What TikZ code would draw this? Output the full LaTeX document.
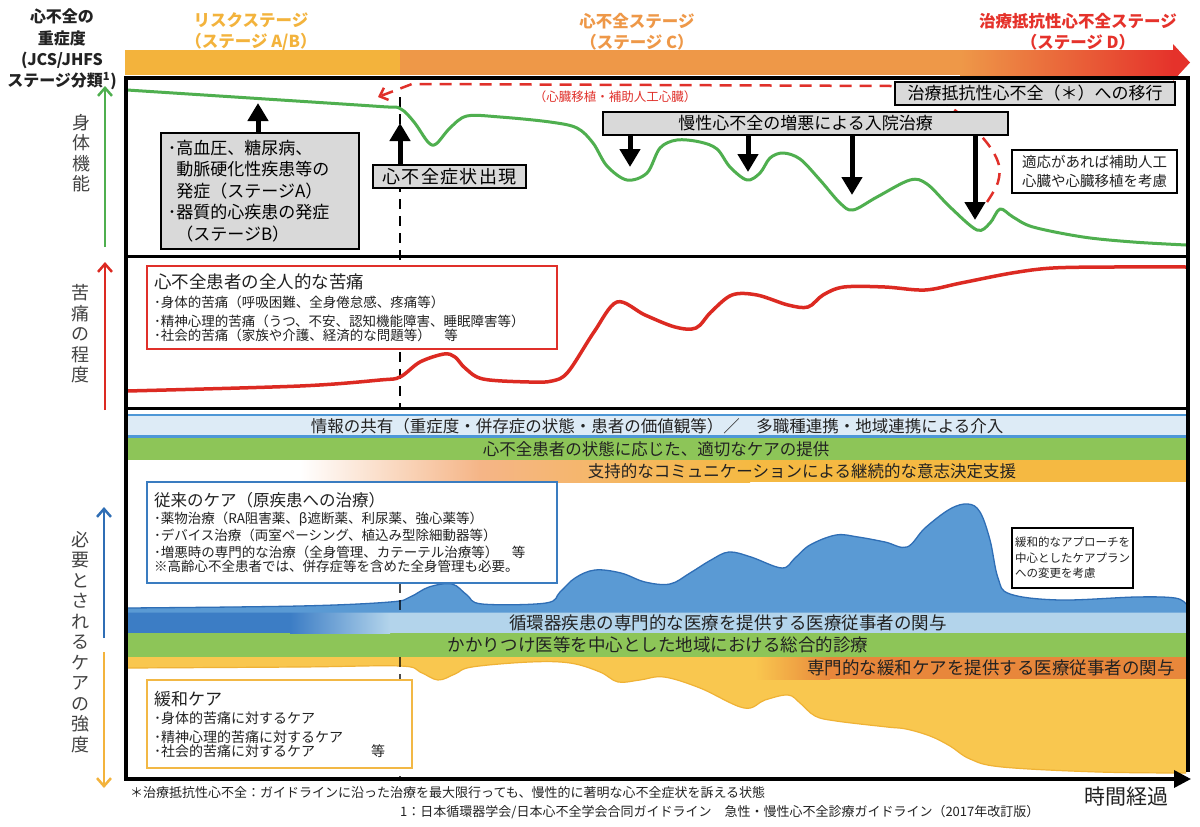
\documentclass[tikz,border=0pt]{standalone}
\usepackage{fontspec}
\setmainfont{Noto Sans CJK JP}
\usetikzlibrary{arrows.meta}
\newcommand\fsz[2]{\fontsize{#1pt}{#2pt}\selectfont}
\definecolor{stY}{HTML}{F3B33C}
\definecolor{stO}{HTML}{EE9848}
\definecolor{stR}{HTML}{E5322B}
\definecolor{gcurve}{HTML}{4FAF4F}
\definecolor{rcurve}{HTML}{DC2A22}
\definecolor{blueA}{HTML}{5A9AD4}
\definecolor{blueE}{HTML}{2F6EB5}
\definecolor{blueD}{HTML}{3C7DC5}
\definecolor{bandB}{HTML}{DDEBF6}
\definecolor{bandBe}{HTML}{4D97D6}
\definecolor{bandG}{HTML}{8DC558}
\definecolor{peach}{HTML}{F5B587}
\definecolor{gold}{HTML}{F5B942}
\definecolor{lblue}{HTML}{B3D4EB}
\definecolor{yelA}{HTML}{F9C74F}
\definecolor{yelE}{HTML}{EFB235}
\definecolor{oraB}{HTML}{E8873B}
\definecolor{boxgray}{HTML}{D9D9D9}
\definecolor{txt}{HTML}{222222}
\definecolor{palE}{HTML}{F2B845}
\definecolor{cureE}{HTML}{3A7CC0}
\definecolor{painE}{HTML}{E0302A}
\tikzset{
  every node/.style={inner sep=0pt, text=txt},
  mainframe/.style={line width=3.5pt, black},
  sepline/.style={line width=3pt, black},
  graybox/.style={draw=black, line width=1.8pt, fill=boxgray, text=black},
  whitebox/.style={draw=black, line width=1.8pt, fill=white},
  blockarrow/.style={line width=5pt, black, -{Triangle[length=18pt,width=20pt]}},
  axisarrow/.style={line width=2.5pt, -{Straight Barb[length=8pt,width=14pt]}},
  vlabel/.style={align=center, font=\fsz{18}{20.5}, text=txt!85!white},
  stagetext/.style={align=center, font=\bfseries\fsz{16.5}{21}},
  uptext/.style={font=\fsz{16.5}{18}},
  lowtext/.style={font=\fsz{17.5}{19}},
  crv/.style={line width=3pt, line join=round, line cap=round},
  vdashline/.style={line width=2.5pt, black, dash pattern=on 10pt off 7pt},
  reddash/.style={line width=2.5pt, painE, dash pattern=on 12pt off 8pt},
}
\begin{document}
\begin{tikzpicture}[x=1pt,y=-1pt]
\useasboundingbox (0,0) rectangle (1200,827);
\fill[white] (0,0) rectangle (1200,827);

% ---------- top stage bar ----------
\fill[stY] (125,50) rectangle (400.5,75);
\fill[stO] (400,50) rectangle (960.5,75);
\shade[left color=stO, right color=stR] (960,50) rectangle (1174,75);
\fill[stR] (1173,44) -- (1190,62.5) -- (1173,81) -- cycle;

\node[align=center, font=\bfseries\fsz{16}{21.3}] (sev) at (62,49.5) {心不全の\\重症度\\(JCS/JHFS\\ステージ分類\textsuperscript{1})};
\node[stagetext, text=stY] (stA) at (251,31.5) {リスクステージ\\（ステージ A/B）};
\node[stagetext, text=stO] (stC) at (637,31.5) {心不全ステージ\\（ステージ C）};
\node[stagetext, text=stR] (stD) at (1078,31.5) {治療抵抗性心不全ステージ\\（ステージ D）};

% ---------- left axis ----------
\coordinate (gA1) at (105,247); \coordinate (gA2) at (105,86);
\draw[axisarrow, gcurve] (gA1) -- (gA2);
\coordinate (rA1) at (105,410); \coordinate (rA2) at (105,262);
\draw[axisarrow, rcurve] (rA1) -- (rA2);
\coordinate (bA1) at (104,638); \coordinate (bA2) at (104,507);
\draw[axisarrow, blueE] (bA1) -- (bA2);
\coordinate (oA1) at (104,652); \coordinate (oA2) at (104,788);
\draw[axisarrow, stY] (oA1) -- (oA2);
\node[vlabel] (lblPhys) at (81,153) {身\\体\\機\\能};
\node[vlabel] (lblPain) at (80,334) {苦\\痛\\の\\程\\度};
\node[vlabel] (lblCare) at (80,642) {必\\要\\と\\さ\\れ\\る\\ケ\\ア\\の\\強\\度};

% ---------- care panel areas ----------
\fill[yelA] (128,656) -- plot[smooth, tension=0.6] coordinates {(128,668) (300,667) (400,666) (420,672) (438,680) (455,674) (472,667) (530,662) (570,663) (600,672) (618,682) (640,680) (664,677) (700,688) (744,708) (765,700) (788,695) (800,703) (815,716) (836,721) (887,727) (906,729) (930,736) (950,746) (970,759) (1002,767) (1098,772) (1186,773)} -- (1186,656) -- cycle;
\draw[yelE, line width=1.2pt] plot[smooth, tension=0.6] coordinates {(128,668) (300,667) (400,666) (420,672) (438,680) (455,674) (472,667) (530,662) (570,663) (600,672) (618,682) (640,680) (664,677) (700,688) (744,708) (765,700) (788,695) (800,703) (815,716) (836,721) (887,727) (906,729) (930,736) (950,746) (970,759) (1002,767) (1098,772) (1186,773)};
\shade[left color=yelA, right color=oraB] (755,657) rectangle (830,679);
\fill[oraB] (829.5,657) rectangle (1186,679);
\fill[bandG] (128,633) rectangle (1186,657);
\fill[blueD] (128,612) rectangle (290.5,633);
\shade[left color=blueD, right color=lblue] (290,612) rectangle (390,633);
\fill[lblue] (389.5,612) rectangle (1186,633);
\fill[blueA] (128,612.5) -- plot[smooth, tension=0.6] coordinates {(128,608) (300,606) (390,602) (410,597) (429,587) (452,584) (467,595) (482,604) (546,603) (560,592) (575,578) (595,570) (621,573) (645,582) (670,584) (690,573) (711,560) (729,552) (751,557) (782,568) (795,558) (810,545) (836,535) (858,537) (885,542) (907,547) (925,528) (950,509) (968,504) (980,512) (990,540) (998,578) (1010,594) (1060,600) (1136,597) (1175,598) (1186,604)} -- (1186,612.5) -- cycle;
\draw[blueE, line width=1.3pt] plot[smooth, tension=0.6] coordinates {(128,608) (300,606) (390,602) (410,597) (429,587) (452,584) (467,595) (482,604) (546,603) (560,592) (575,578) (595,570) (621,573) (645,582) (670,584) (690,573) (711,560) (729,552) (751,557) (782,568) (795,558) (810,545) (836,535) (858,537) (885,542) (907,547) (925,528) (950,509) (968,504) (980,512) (990,540) (998,578) (1010,594) (1060,600) (1136,597) (1175,598) (1186,604)};
\fill[bandB] (128,415) rectangle (1186,437);
\draw[bandBe, line width=2.2pt] (128,415) -- (1186,415) (128,436.5) -- (1186,436.5);
\fill[bandG] (128,437.5) rectangle (1186,460);
\fill[white] (128,460) rectangle (300.5,482);
\shade[left color=white, right color=peach] (300,460) rectangle (480,482);
\shade[left color=peach, right color=gold] (479.5,460) rectangle (750,482);
\fill[gold] (749.5,460) rectangle (1186,482);

\node[uptext] (t1) at (657,426) {情報の共有（重症度・併存症の状態・患者の価値観等）／　多職種連携・地域連携による介入};
\node[uptext] (t2) at (656,449) {心不全患者の状態に応じた、適切なケアの提供};
\node[uptext] (t3) at (802,471) {支持的なコミュニケーションによる継続的な意志決定支援};
\node[lowtext] (t4) at (728,622.5) {循環器疾患の専門的な医療を提供する医療従事者の関与};
\node[lowtext] (t5) at (658,645) {かかりつけ医等を中心とした地域における総合的診療};
\node[lowtext] (t6) at (991,668) {専門的な緩和ケアを提供する医療従事者の関与};

\draw[vdashline] (400,97) -- (400,408);
\draw[vdashline, opacity=0.7] (400,583) -- (400,612);
\draw[vdashline, opacity=0.7] (400,657) -- (400,778);

% ---------- curves ----------
\draw[crv, gcurve] plot[smooth, tension=0.55] coordinates {(127,90) (250,98) (380,106.5) (400,108.5) (414,122) (428,142) (436,144) (450,128) (467,116) (500,117) (550,122) (577,128) (593,143) (607,166) (627,180) (647,173) (660,148) (677,140) (700,142) (717,149) (730,167) (747,180) (760,173) (770,158) (783,153) (800,159) (820,180) (840,203) (853,210) (877,197) (910,180) (927,184) (950,207) (977,230) (990,223) (1000,209) (1013,217) (1033,227) (1083,237) (1133,242) (1186,245)};
\draw[crv, rcurve, line width=3.5pt] plot[smooth, tension=0.55] coordinates {(127,391) (300,386) (380,380) (400,377) (420,362) (444,354) (455,357) (465,368) (483,379) (529,382) (552,381) (568,372) (594,332) (617,302) (645,315) (675,327) (696,328) (711,312) (732,295) (757,295) (788,305) (808,307) (823,295) (844,287) (885,287) (925,290) (961,283) (1012,273) (1053,268) (1114,267) (1186,267)};

\draw[reddash, -{Straight Barb[length=7pt,width=13pt]}] plot[smooth, tension=0.6] coordinates {(987,202) (998,182) (998,162) (983,138) (952,108) (918,91) (890,86)} -- (412,84) -- (378,97);
\node[font=\fsz{12.5}{14}, text=painE] (tx) at (615,97) {（心臓移植・補助人工心臓）};

% ---------- frame ----------
\draw[sepline] (126,256.5) -- (1188,256.5);
\draw[sepline] (126,408.5) -- (1188,408.5);
\draw[mainframe] (126,779) -- (126,78) -- (1188,78) -- (1188,772);
\draw[mainframe, -{Triangle[length=17pt,width=17pt]}] (124.25,779) -- (1191,779);

% ---------- physical panel boxes & arrows ----------
\node[graybox, minimum width=198pt, minimum height=116pt, text width=184pt, align=left, font=\fsz{17}{21.5}, anchor=north west] (risk) at (160,132) {･高血圧、糖尿病、\\\hphantom{･}動脈硬化性疾患等の\\\hphantom{･}発症（ステージA）\\･器質的心疾患の発症\\\hphantom{･}（ステージB）};
\coordinate (riskTip) at (258,103);
\draw[blockarrow] (risk.north -| riskTip) -- (riskTip);

\node[graybox, minimum width=153pt, minimum height=23pt, font=\fsz{18}{20}\addfontfeature{LetterSpace=8}] (symp) at (449.5,176.5) {心不全症状出現};
\coordinate (sympTip) at (400,123);
\draw[blockarrow] (symp.north -| sympTip) -- (sympTip);

\node[graybox, minimum width=405pt, minimum height=23pt, font=\fsz{17}{20}] (hosp) at (805.5,123.5) {慢性心不全の増悪による入院治療};
\coordinate (hA) at (630,167);
\coordinate (hB) at (748,172);
\coordinate (hC) at (852,195);
\coordinate (hD) at (975,220);
\draw[blockarrow] (hosp.south -| hA) -- (hA);
\draw[blockarrow] (hosp.south -| hB) -- (hB);
\draw[blockarrow] (hosp.south -| hC) -- (hC);
\draw[blockarrow] (hosp.south -| hD) -- (hD);

\node[graybox, minimum width=280pt, minimum height=23pt, font=\fsz{17}{20}] (refr) at (1035,93.5) {治療抵抗性心不全（＊）への移行};

\node[whitebox, minimum width=165pt, minimum height=43pt, align=center, font=\fsz{14.5}{19}] (vad) at (1094.5,171.5) {適応があれば補助人工\\心臓や心臓移植を考慮};

% ---------- pain panel box ----------
\node[draw=painE, line width=2pt, fill=white, minimum width=410pt, minimum height=83pt, text width=396pt, align=left] (painbox) at (352,307.5) {\fsz{17.5}{21}心不全患者の全人的な苦痛\par\fsz{13.5}{19}･身体的苦痛（呼吸困難、全身倦怠感、疼痛等）\par･精神心理的苦痛（うつ、不安、認知機能障害、睡眠障害等）\par･社会的苦痛（家族や介護、経済的な問題等）　等};

% ---------- care panel boxes ----------
\node[draw=cureE, line width=2.5pt, fill=white, minimum width=410pt, minimum height=101pt, text width=396pt, align=left] (curebox) at (352,532.5) {\fsz{16.5}{20}従来のケア（原疾患への治療）\par\fsz{13.5}{17}･薬物治療（RA阻害薬、β遮断薬、利尿薬、強心薬等）\par･デバイス治療（両室ペーシング、植込み型除細動器等）\par･増悪時の専門的な治療（全身管理、カテーテル治療等）　等\par※高齢心不全患者では、併存症等を含めた全身管理も必要。};

\node[draw=palE, line width=2.5pt, fill=white, minimum width=265pt, minimum height=88pt, text width=251pt, align=left] (palbox) at (279.5,724) {\fsz{17}{21}緩和ケア\par\fsz{14}{18.5}･身体的苦痛に対するケア\par･精神心理的苦痛に対するケア\par･社会的苦痛に対するケア\hfill 等\hspace*{20pt}};

\node[whitebox, minimum width=121pt, minimum height=60pt, align=left, font=\fsz{11.5}{15.5}] (plan) at (1072.5,558) {緩和的なアプローチを\\中心としたケアプラン\\への変更を考慮};

% ---------- footnotes ----------
\node[anchor=west, font=\fsz{13}{15}] (fn1) at (130,793) {＊治療抵抗性心不全：ガイドラインに沿った治療を最大限行っても、慢性的に著明な心不全症状を訴える状態};
\node[anchor=west, font=\fsz{13}{15}] (fn2) at (400,812) {1：日本循環器学会/日本心不全学会合同ガイドライン　急性・慢性心不全診療ガイドライン（2017年改訂版）};
\node[font=\fsz{21}{24}] (time) at (1126,797) {時間経過};
\end{tikzpicture}
\end{document}
